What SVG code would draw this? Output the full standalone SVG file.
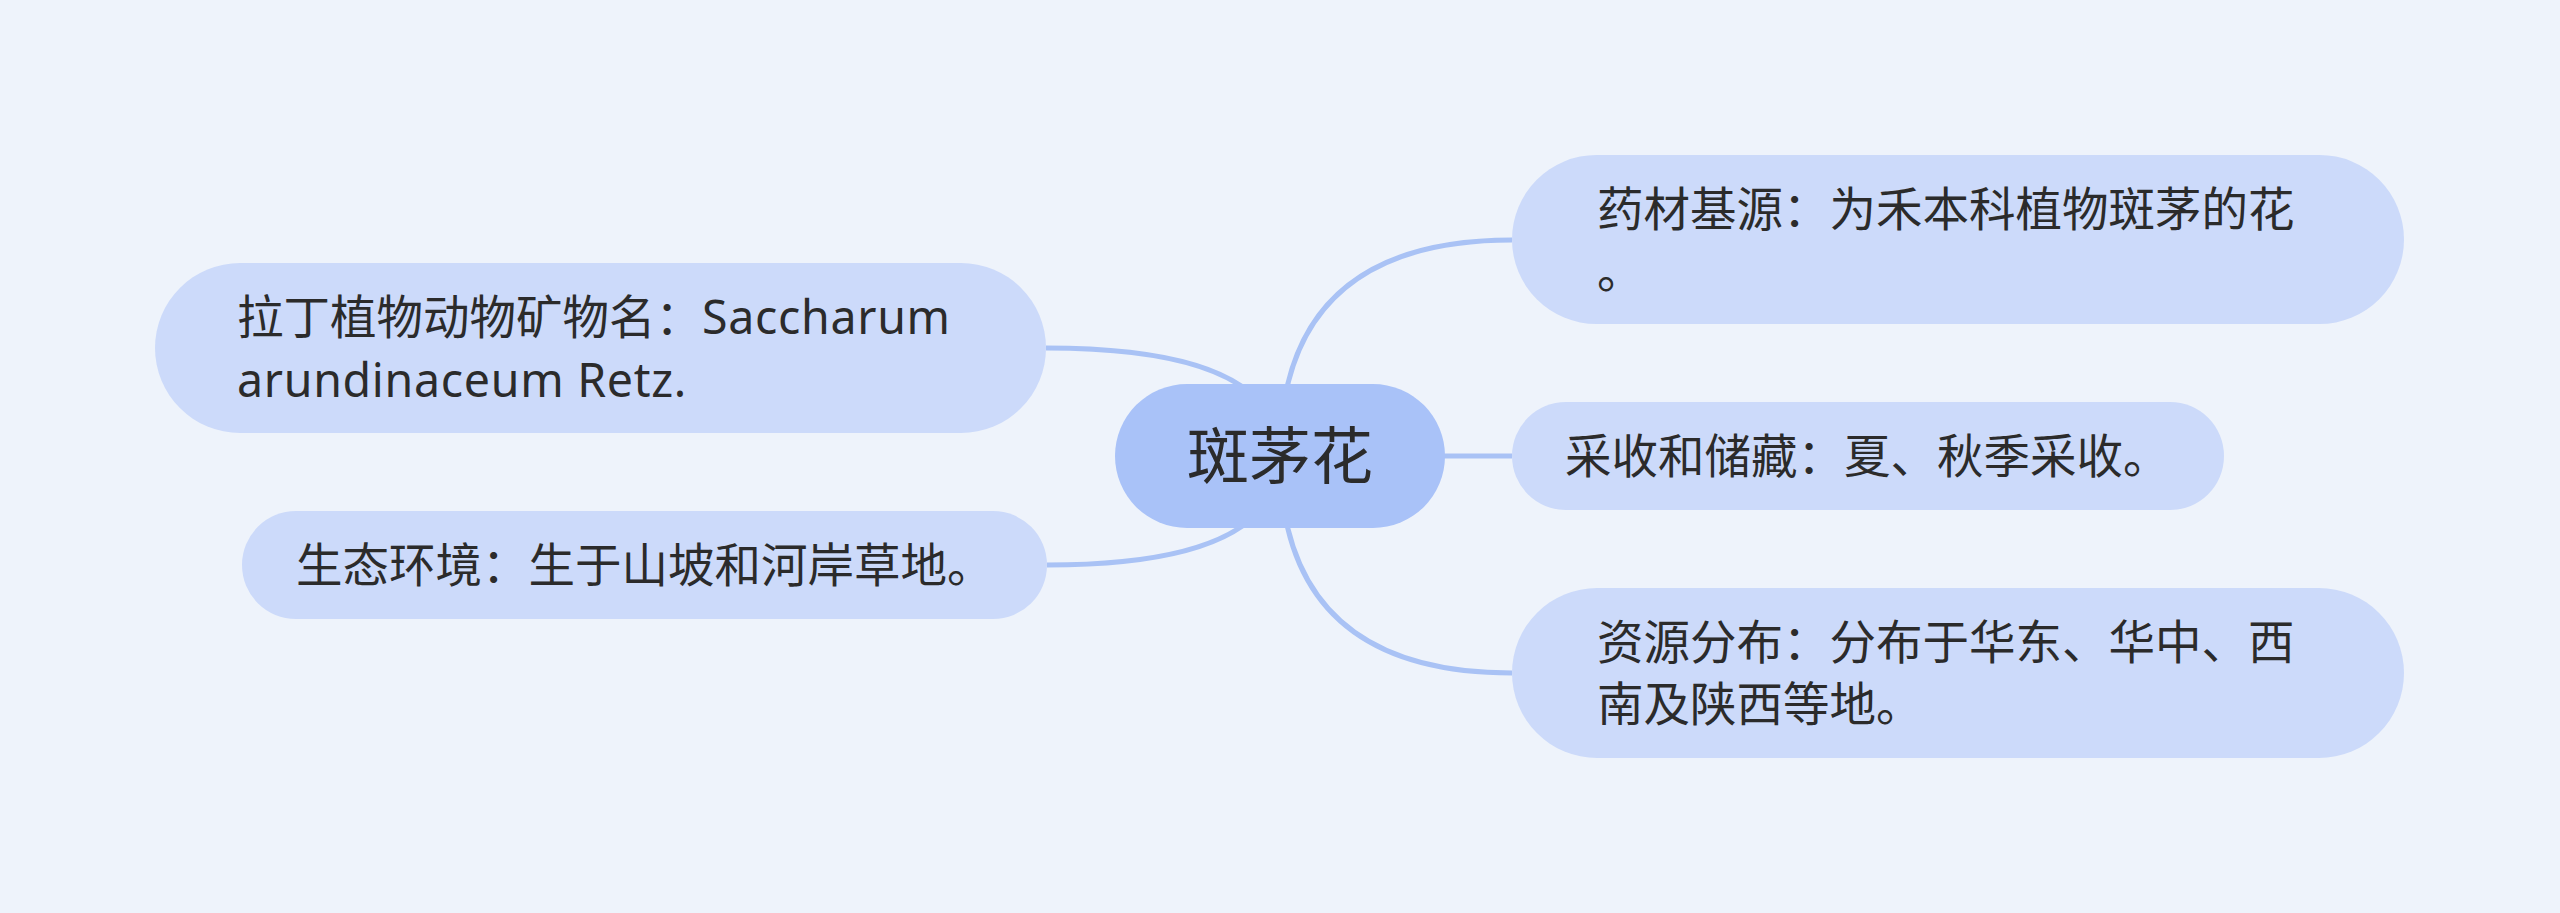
<svg xmlns="http://www.w3.org/2000/svg" width="2560" height="913" viewBox="0 0 2560 913">
<style>
.bg{fill:#eef3fb}
.root{fill:#a9c2f8}
.child{fill:#ccdafa}
.link{fill:none;stroke:#a9c2f5;stroke-width:5}
text{font-family:"Noto Sans","Noto Sans CJK SC",sans-serif;fill:#2b2b2b}
.t{font-size:46.5px}
.lat{letter-spacing:0.7px}
.rt{font-size:62px;text-anchor:middle}
</style>
<rect class="bg" x="0" y="0" width="2560" height="913"/>
<g id="connectors">
<path class="link" d="M1280,456 Q1280,240 1512,240"/>
<path class="link" d="M1280,456 L1512,456"/>
<path class="link" d="M1280,456 Q1280,673 1512,673"/>
<path class="link" d="M1280,456 Q1280,348 1046,348"/>
<path class="link" d="M1280,456 Q1280,565 1047,565"/>
</g>
<g id="root">
<rect class="root" x="1115" y="384" width="330" height="144" rx="72"/>
<text class="rt" x="1280" y="479">斑茅花</text>
</g>
<g id="n-latin">
<rect class="child" x="155" y="263" width="891" height="170" rx="85"/>
<text class="t" x="237" y="334">拉丁植物动物矿物名：<tspan class="lat">Saccharum</tspan></text>
<text class="t lat" x="237" y="397">arundinaceum Retz.</text>
</g>
<g id="n-eco">
<rect class="child" x="242" y="511" width="805" height="108" rx="54"/>
<text class="t" x="296" y="582">生态环境：生于山坡和河岸草地。</text>
</g>
<g id="n-source">
<rect class="child" x="1512" y="155" width="892" height="169" rx="84.5"/>
<text class="t" x="1597" y="226">药材基源：为禾本科植物斑茅的花</text>
<text class="t" x="1597" y="288">。</text>
</g>
<g id="n-harvest">
<rect class="child" x="1512" y="402" width="712" height="108" rx="54"/>
<text class="t" x="1565" y="473">采收和储藏：夏、秋季采收。</text>
</g>
<g id="n-dist">
<rect class="child" x="1512" y="588" width="892" height="170" rx="85"/>
<text class="t" x="1597" y="659">资源分布：分布于华东、华中、西</text>
<text class="t" x="1597" y="721">南及陕西等地。</text>
</g>
</svg>
